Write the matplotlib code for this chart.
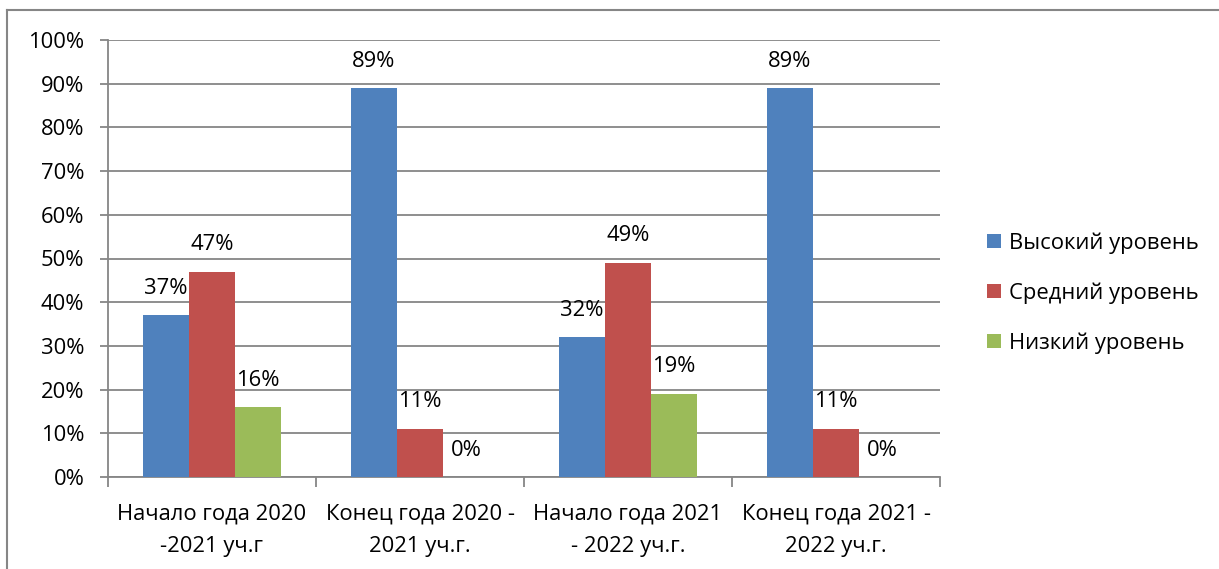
import matplotlib
matplotlib.use("Agg")
import matplotlib.pyplot as plt
import numpy as np
from matplotlib.lines import Line2D
from matplotlib.patches import Patch

plt.rcParams['font.family'] = ['Open Sans', 'DejaVu Sans']

categories = ["Начало года 2020\n-2021 уч.г", "Конец года 2020 -\n2021 уч.г.",
              "Начало года 2021\n- 2022 уч.г.", "Конец года 2021 -\n2022 уч.г."]
series_names = ["Высокий уровень", "Средний уровень", "Низкий уровень"]
high = [37, 89, 32, 89]
mid = [47, 11, 49, 11]
low = [16, 0, 19, 0]
colors = ["#4F81BD", "#C0504D", "#9BBB59"]
yticks = [0, 10, 20, 30, 40, 50, 60, 70, 80, 90, 100]

fig = plt.figure(figsize=(12.19, 5.69), dpi=100)
ax = fig.add_axes([108/1219, 1-477/569, (940-108)/1219, (477-40)/569])

fs = 15.8
x = np.arange(len(categories))
w = 46/208
data = [high, mid, low]
for i, (vals, c, name) in enumerate(zip(data, colors, series_names)):
    pos = x + (i - 1) * w
    ax.bar(pos, vals, width=w, color=c, label=name, zorder=3)
    for p, v in zip(pos, vals):
        ax.annotate(f"{v}%", (p, v), xytext=(0, 27), textcoords="offset pixels",
                    ha="center", va="center", fontsize=fs)

ax.set_xlim(-0.5, len(categories) - 0.5)
ax.set_ylim(0, 100)
ax.set_yticks(yticks)
ax.set_yticklabels([f"{t}%" for t in yticks], fontsize=fs)
ax.yaxis.grid(True, color="#868686", linewidth=1.3, zorder=0)
ax.tick_params(axis="y", length=6, color="#868686", width=1.3, pad=11)

ax.set_xticks(x)
ax.set_xticklabels(categories, fontsize=fs, linespacing=1.75)
ax.tick_params(axis="x", length=0, pad=19)
ax.set_xticks(np.arange(-0.5, len(categories)), minor=True)
ax.tick_params(axis="x", which="minor", length=7, color="#868686", width=1.3)

for s in ["top", "right"]:
    ax.spines[s].set_visible(False)
for s in ["left", "bottom"]:
    ax.spines[s].set_color("#868686")
    ax.spines[s].set_linewidth(1.3)

handles = [Patch(facecolor=c, label=n) for c, n in zip(colors, series_names)]
leg = fig.legend(handles=handles, loc="center left", bbox_to_anchor=(976/1219, 1-293/569),
                 frameon=False, fontsize=fs, handlelength=0.65, handleheight=0.65,
                 handletextpad=0.35, labelspacing=1.3, borderpad=0)

fig.add_artist(Line2D([7/1219, 7/1219], [0, 1-10/569], transform=fig.transFigure,
                      color="#868686", linewidth=1.5))
fig.add_artist(Line2D([7/1219, 1], [1-10/569, 1-10/569], transform=fig.transFigure,
                      color="#868686", linewidth=1.5))

fig.savefig("out.png", dpi=100)
